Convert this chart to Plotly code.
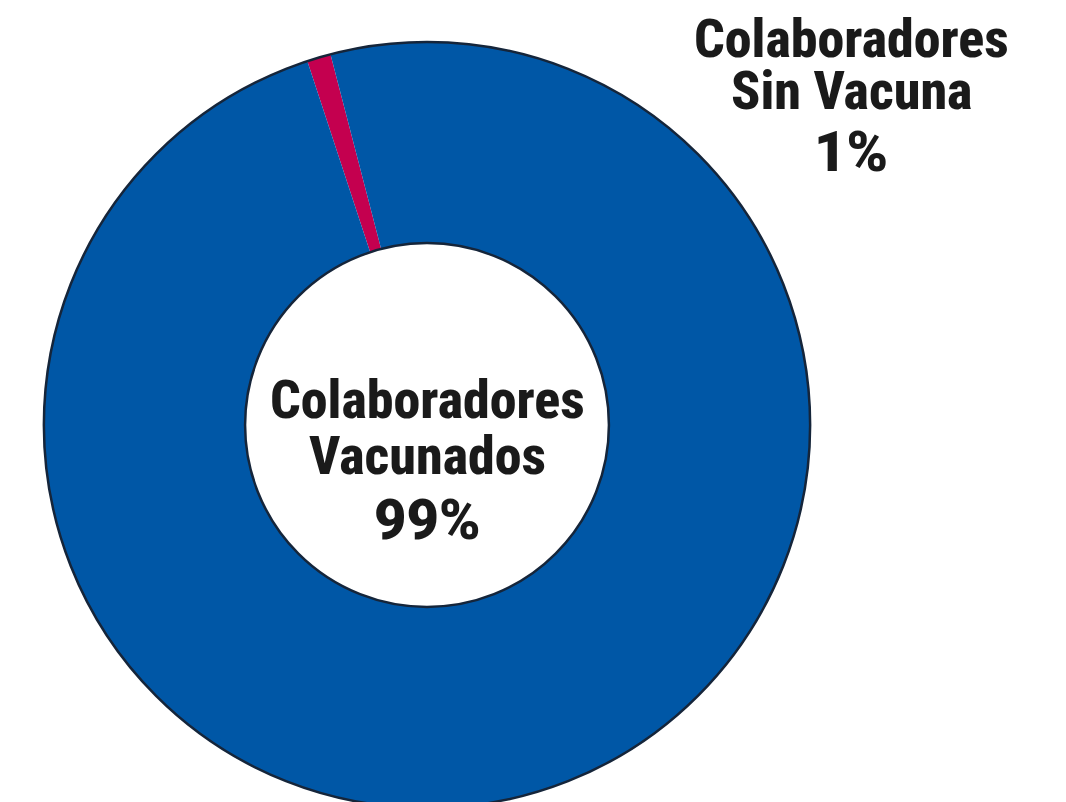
import plotly.graph_objects as go

# Data
labels = ["Colaboradores Sin Vacuna", "Colaboradores Vacunados"]
values = [1, 99]
colors = ["#c4004f", "#0057a6"]

W, H = 1066, 820
cx, cy, r = 419, 417, 383  # pie geometry in px (figure coords)
dom_x = [(cx - r) / W, (cx + r) / W]
dom_y = [1 - (cy + r) / H, 1 - (cy - r) / H]
hole = 0.475

fig = go.Figure()
fig.add_trace(go.Pie(
    labels=labels, values=values, sort=False,
    direction="counterclockwise", rotation=-18.2,
    marker=dict(colors=colors, line=dict(width=0)),
    hole=hole, textinfo="none", hoverinfo="label+percent",
    domain=dict(x=dom_x, y=dom_y), showlegend=False,
))
# outline ring
fig.add_trace(go.Pie(
    labels=["outline"], values=[1], sort=False,
    marker=dict(colors=["rgba(0,0,0,0)"], line=dict(color="#15253a", width=2.5)),
    hole=hole, textinfo="none", hoverinfo="skip",
    domain=dict(x=dom_x, y=dom_y), showlegend=False,
))

narrow = "Roboto Condensed, Liberation Sans Narrow, DejaVu Sans Condensed, sans-serif"
wide = "Roboto, Liberation Sans, Arial, sans-serif"
txt = "#1a1a1a"

center_lines = [("Colaboradores", 391, narrow, 54, 800), ("Vacunados", 447, narrow, 54, 800),
                (f"{values[1]}%", 512, wide, 56, 900)]
side_lines = [("Colaboradores", 30, narrow, 54, 800), ("Sin Vacuna", 83, narrow, 54, 800),
              (f"{values[0]}%", 144, wide, 56, 900)]

for text, ypx, fam, sz, wt in center_lines:
    fig.add_annotation(x=cx / W, y=1 - ypx / H, xref="paper", yref="paper",
                       text=text, showarrow=False, xanchor="center", yanchor="middle",
                       font=dict(family=fam, size=sz, color=txt, weight=wt))
for text, ypx, fam, sz, wt in side_lines:
    fig.add_annotation(x=843 / W, y=1 - ypx / H, xref="paper", yref="paper",
                       text=text, showarrow=False, xanchor="center", yanchor="middle",
                       font=dict(family=fam, size=sz, color=txt, weight=wt))

fig.update_layout(width=W, height=H, margin=dict(l=0, r=0, t=0, b=0),
                  paper_bgcolor="white", plot_bgcolor="white")
fig.write_html("out.html")
